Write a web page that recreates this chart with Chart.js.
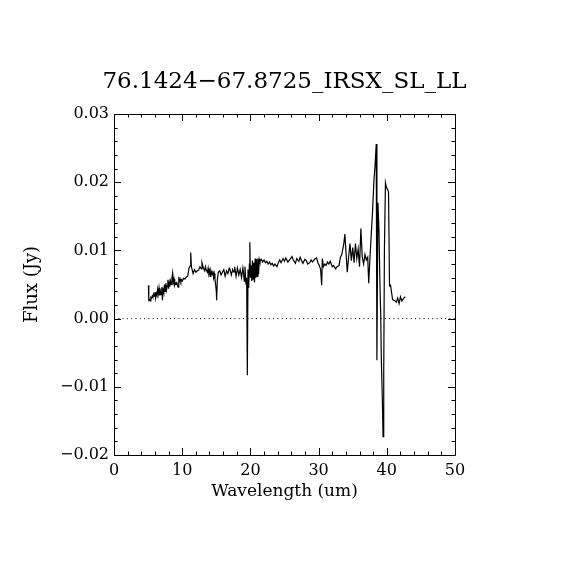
<!DOCTYPE html>
<html><head><meta charset="utf-8">
<script src="https://cdn.jsdelivr.net/npm/chart.js@4"></script>
<style>html,body{margin:0;padding:0;background:#fff}canvas{display:block}</style>
</head><body><canvas id="c" width="570" height="570"></canvas>
<script>
const titleText = "76.1424\u221267.8725_IRSX_SL_LL";
const xAxisTitle = "Wavelength (um)";
const yAxisTitle = "Flux (Jy)";
const xTicks = [0, 10, 20, 30, 40, 50];
const yTicks = [-0.02, -0.01, 0.00, 0.01, 0.02, 0.03];

const wavelength = [
 5.05,5.1,5.2,5.3,5.4,5.5,5.6,5.7,5.8,5.9,6.0,6.1,6.2,6.3,6.4,6.5,6.6,6.7,6.8,6.9,
 7.0,7.1,7.2,7.3,7.4,7.5,7.6,7.7,7.8,7.9,8.0,8.1,8.2,8.3,8.4,8.5,8.6,8.7,8.8,8.9,
 9.0,9.1,9.2,9.3,9.4,9.5,9.6,9.7,9.8,9.9,10.0,10.2,10.4,10.6,10.8,10.9,11.0,11.15,11.25,11.35,
 11.5,11.6,11.8,12.0,12.2,12.4,12.6,12.8,12.9,13.0,13.1,13.3,13.4,13.5,13.7,13.8,13.9,14.0,14.1,14.2,
 14.4,14.5,14.6,14.7,14.8,14.9,15.0,15.05,15.15,15.3,15.5,15.7,15.9,16.1,16.3,16.5,16.7,16.9,17.0,17.2,
 17.4,17.6,17.7,17.9,18.1,18.3,18.5,18.7,18.9,19.0,19.1,19.2,19.35,19.45,19.55,19.65,19.75,19.85,19.92,20.0,
 20.1,20.2,20.3,20.4,20.5,20.6,20.7,20.8,20.9,21.0,21.1,21.2,21.3,21.4,21.6,21.8,22.0,22.2,22.4,22.6,
 22.8,23.0,23.2,23.4,23.6,23.9,24.1,24.3,24.5,24.8,25.0,25.2,25.5,25.8,26.1,26.3,26.6,26.8,27.1,27.3,
 27.5,27.7,28.0,28.2,28.4,28.7,28.9,29.1,29.4,29.7,29.9,30.1,30.3,30.45,30.55,30.7,30.9,31.1,31.3,31.5,
 31.7,32.0,32.2,32.5,32.7,33.0,33.2,33.4,33.7,33.85,34.0,34.2,34.4,34.6,34.8,35.0,35.2,35.4,35.6,35.8,
 36.0,36.2,36.4,36.6,36.8,37.0,37.2,37.35,37.5,37.7,37.9,38.1,38.3,38.45,38.55,38.7,38.85,39.0,39.1,39.2,
 39.35,39.45,39.55,39.65,39.8,39.95,40.1,40.25,40.4,40.55,40.7,40.85,41.0,41.2,41.4,41.6,41.8,42.0,42.2,42.5,
 42.7
];
const flux = [
 0.0049,0.0027,0.0028,0.0026,0.0031,0.0030,0.0033,0.0031,0.0036,0.0033,0.0039,0.0030,0.0037,0.0034,0.0043,0.0036,0.0045,0.0034,0.0040,0.0035,
 0.0046,0.0027,0.0042,0.0038,0.0050,0.0040,0.0052,0.0042,0.0048,0.0057,0.0044,0.0053,0.0047,0.0055,0.0050,0.0060,0.0067,0.0053,0.0058,0.0049,
 0.0052,0.0050,0.0054,0.0049,0.0046,0.0061,0.0055,0.0058,0.0054,0.0057,0.0055,0.0059,0.0058,0.0061,0.0062,0.0068,0.0074,0.0077,0.0097,0.0076,
 0.0070,0.0066,0.0072,0.0068,0.0070,0.0071,0.0076,0.0073,0.0082,0.0078,0.0074,0.0070,0.0076,0.0072,0.0068,0.0074,0.0066,0.0070,0.0062,0.0071,
 0.0064,0.0070,0.0060,0.0066,0.0058,0.0050,0.0040,0.0027,0.0057,0.0068,0.0070,0.0064,0.0068,0.0072,0.0062,0.0070,0.0066,0.0074,0.0072,0.0064,
 0.0072,0.0068,0.0076,0.0062,0.0074,0.0064,0.0072,0.0060,0.0074,0.0066,0.0055,0.0076,0.0050,0.0060,-0.0083,0.0072,0.0045,0.0080,0.0112,0.0060,
 0.0078,0.0055,0.0085,0.0058,0.0082,0.0053,0.0088,0.0060,0.0087,0.0062,0.0088,0.0065,0.0087,0.0083,0.0087,0.0083,0.0086,0.0082,0.0084,0.0080,
 0.0083,0.0079,0.0081,0.0077,0.0080,0.0076,0.0082,0.0086,0.0082,0.0088,0.0084,0.0089,0.0083,0.0087,0.0091,0.0086,0.0081,0.0088,0.0084,0.0090,
 0.0085,0.0081,0.0087,0.0085,0.0080,0.0082,0.0086,0.0083,0.0087,0.0089,0.0082,0.0078,0.0072,0.0049,0.0088,0.0076,0.0080,0.0078,0.0083,0.0080,
 0.0084,0.0076,0.0078,0.0073,0.0076,0.0078,0.0090,0.0094,0.0110,0.0124,0.0100,0.0068,0.0090,0.0110,0.0085,0.0104,0.0082,0.0110,0.0088,0.0102,
 0.0076,0.0132,0.0090,0.0080,0.0094,0.0086,0.0090,0.0052,0.0083,0.0120,0.0155,0.0200,0.0228,0.0256,-0.0061,0.0170,0.0130,0.0048,0.0010,-0.0060,
 -0.0120,-0.0173,-0.0080,0.0100,0.0199,0.0192,0.0190,0.0186,0.0048,0.0049,0.0038,0.0028,0.0027,0.0026,0.0024,0.0030,0.0022,0.0032,0.0026,0.0030,
 0.0032
];
const zeroLineX = [0, 50];
const zeroLineY = [0, 0];

const FONT = "'DejaVu Serif', serif";

const frame = {
  id: 'frame',
  afterDatasetsDraw(chart) {
    const {ctx, chartArea: a, scales: {x, y}} = chart;
    ctx.save();
    ctx.strokeStyle = '#000';
    ctx.lineWidth = 1;
    ctx.beginPath();
    ctx.rect(Math.round(a.left) + 0.5, Math.round(a.top) + 0.5, Math.round(a.right - a.left), Math.round(a.bottom - a.top));
    ctx.stroke();
    ctx.beginPath();
    for (let v = 0; v <= 50.001; v += 2) {
      const px = Math.round(x.getPixelForValue(v)) + 0.5;
      const len = (Math.round(v) % 10 === 0) ? 7 : 3.5;
      ctx.moveTo(px, a.bottom); ctx.lineTo(px, a.bottom - len);
      ctx.moveTo(px, a.top); ctx.lineTo(px, a.top + len);
    }
    for (let i = -10; i <= 15; i++) {
      const v = i * 0.002;
      const py = Math.round(y.getPixelForValue(v)) + 0.5;
      const len = (i % 5 === 0) ? 7 : 3.5;
      ctx.moveTo(a.left, py); ctx.lineTo(a.left + len, py);
      ctx.moveTo(a.right, py); ctx.lineTo(a.right - len, py);
    }
    ctx.stroke();
    ctx.fillStyle = '#000';
    ctx.font = "23px " + FONT;
    ctx.textAlign = 'center';
    ctx.textBaseline = 'middle';
    ctx.fillText(titleText, (a.left + a.right) / 2, 82);
    ctx.restore();
  }
};

new Chart(document.getElementById('c'), {
  type: 'scatter',
  data: {
    datasets: [
      {
        data: wavelength.map((w, i) => ({x: w, y: flux[i]})),
        showLine: true, borderColor: '#000', borderWidth: 1.2, pointRadius: 0, tension: 0, order: 1
      },
      {
        data: zeroLineX.map((w, i) => ({x: w, y: zeroLineY[i]})),
        showLine: true, borderColor: '#000', borderWidth: 1, borderDash: [1, 3.3], pointRadius: 0, order: 2
      }
    ]
  },
  options: {
    responsive: false,
    animation: false,
    devicePixelRatio: 1,
    layout: {padding: {top: 114, right: 115, left: 0, bottom: 0}},
    plugins: {legend: {display: false}, tooltip: {enabled: false}},
    scales: {
      x: {
        type: 'linear', min: 0, max: 50,
        afterFit(s) { s.height = 115; },
        afterBuildTicks(s) { s.ticks = xTicks.map(v => ({value: v})); },
        grid: {display: false, drawTicks: false},
        border: {display: false},
        ticks: {color: '#000', font: {family: FONT, size: 16}, padding: 6, maxRotation: 0,
                callback: v => String(v)},
        title: {display: true, text: xAxisTitle, color: '#000', font: {family: FONT, size: 17}, padding: {top: 0, bottom: 68}}
      },
      y: {
        type: 'linear', min: -0.02, max: 0.03,
        afterFit(s) { s.width = 114; },
        afterBuildTicks(s) { s.ticks = yTicks.map(v => ({value: v})); },
        grid: {display: false, drawTicks: false},
        border: {display: false},
        ticks: {color: '#000', font: {family: FONT, size: 16}, padding: 5,
                callback: v => (v < 0 ? '\u2212' : '') + Math.abs(v).toFixed(2)},
        title: {display: true, text: yAxisTitle, color: '#000', font: {family: FONT, size: 18}, padding: {top: 22, bottom: 0}}
      }
    }
  },
  plugins: [frame]
});
</script>
</body></html>
